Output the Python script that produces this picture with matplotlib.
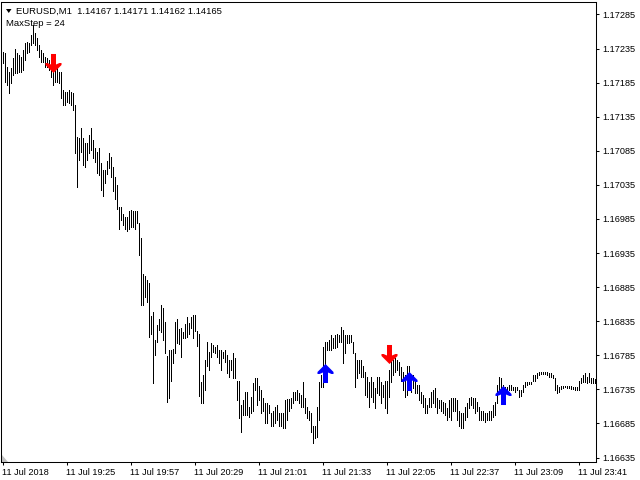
import matplotlib
matplotlib.use("Agg")
import matplotlib.pyplot as plt
from matplotlib.path import Path
from matplotlib.patches import Polygon
import numpy as np

plt.rcParams['font.family'] = ['Liberation Sans', 'DejaVu Sans']

# ---------------- data ----------------
symbol_text = "EURUSD,M1  1.14167 1.14171 1.14162 1.14165"
indicator_text = "MaxStep = 24"

highs = [
    1.17230, 1.17228, 1.17208, 1.17200, 1.17206, 1.17221, 1.17234, 1.17228, 1.17225, 1.17222,
    1.17233, 1.17243, 1.17245, 1.17243, 1.17255, 1.17270, 1.17258, 1.17251, 1.17240, 1.17233,
    1.17228, 1.17222, 1.17221, 1.17218, 1.17222, 1.17203, 1.17203, 1.17206, 1.17200, 1.17200,
    1.17174, 1.17171, 1.17171, 1.17174, 1.17171, 1.17170, 1.17152, 1.17105, 1.17104, 1.17118,
    1.17104, 1.17096, 1.17096, 1.17108, 1.17118, 1.17101, 1.17089, 1.17083, 1.17089, 1.17067,
    1.17057, 1.17057, 1.17070, 1.17082, 1.17076, 1.17061, 1.17046, 1.17035, 1.17002, 1.17002,
    1.16992, 1.16988, 1.16988, 1.16996, 1.16998, 1.16996, 1.16996, 1.16996, 1.16979, 1.16957,
    1.16904, 1.16901, 1.16895, 1.16891, 1.16842, 1.16848, 1.16807, 1.16829, 1.16839, 1.16859,
    1.16854, 1.16834, 1.16784, 1.16793, 1.16793, 1.16794, 1.16834, 1.16839, 1.16823, 1.16825,
    1.16819, 1.16831, 1.16841, 1.16832, 1.16841, 1.16844, 1.16844, 1.16820, 1.16817, 1.16746,
    1.16756, 1.16778, 1.16804, 1.16790, 1.16803, 1.16800, 1.16797, 1.16800, 1.16793, 1.16793,
    1.16790, 1.16793, 1.16785, 1.16778, 1.16778, 1.16788, 1.16781, 1.16748, 1.16748, 1.16712,
    1.16719, 1.16731, 1.16731, 1.16709, 1.16724, 1.16744, 1.16751, 1.16751, 1.16740, 1.16734,
    1.16722, 1.16715, 1.16715, 1.16712, 1.16701, 1.16704, 1.16709, 1.16712, 1.16701, 1.16701,
    1.16701, 1.16719, 1.16721, 1.16721, 1.16722, 1.16731, 1.16731, 1.16734, 1.16729, 1.16727,
    1.16746, 1.16722, 1.16709, 1.16704, 1.16700, 1.16682, 1.16682, 1.16709, 1.16746, 1.16756,
    1.16797, 1.16804, 1.16804, 1.16807, 1.16815, 1.16810, 1.16815, 1.16817, 1.16815, 1.16826,
    1.16822, 1.16815, 1.16815, 1.16815, 1.16815, 1.16804, 1.16788, 1.16778, 1.16778, 1.16778,
    1.16770, 1.16760, 1.16753, 1.16746, 1.16753, 1.16746, 1.16737, 1.16753, 1.16753, 1.16746,
    1.16741, 1.16748, 1.16748, 1.16763, 1.16778, 1.16778, 1.16781, 1.16778, 1.16775, 1.16768,
    1.16760, 1.16756, 1.16770, 1.16770, 1.16756, 1.16756, 1.16748, 1.16741, 1.16741, 1.16731,
    1.16727, 1.16722, 1.16712, 1.16722, 1.16731, 1.16734, 1.16737, 1.16722, 1.16719, 1.16719,
    1.16716, 1.16715, 1.16707, 1.16719, 1.16722, 1.16722, 1.16722, 1.16719, 1.16704, 1.16700,
    1.16701, 1.16709, 1.16715, 1.16722, 1.16724, 1.16722, 1.16722, 1.16716, 1.16709, 1.16704,
    1.16704, 1.16701, 1.16701, 1.16704, 1.16704, 1.16712, 1.16716, 1.16741, 1.16753, 1.16751,
    1.16741, 1.16738, 1.16738, 1.16741, 1.16741, 1.16738, 1.16738, 1.16738, 1.16734, 1.16734,
    1.16741, 1.16746, 1.16746, 1.16746, 1.16746, 1.16756, 1.16756, 1.16759, 1.16760, 1.16760,
    1.16760, 1.16760, 1.16760, 1.16759, 1.16759, 1.16756, 1.16751, 1.16741, 1.16738, 1.16740,
    1.16740, 1.16740, 1.16740, 1.16740, 1.16740, 1.16738, 1.16738, 1.16738, 1.16748, 1.16751,
    1.16756, 1.16759, 1.16753, 1.16759, 1.16751, 1.16751, 1.16750,
]

lows = [
    1.17214, 1.17186, 1.17181, 1.17170, 1.17184, 1.17196, 1.17199, 1.17199, 1.17200, 1.17200,
    1.17203, 1.17218, 1.17228, 1.17230, 1.17240, 1.17243, 1.17240, 1.17233, 1.17222, 1.17215,
    1.17215, 1.17208, 1.17208, 1.17203, 1.17193, 1.17181, 1.17186, 1.17186, 1.17184, 1.17162,
    1.17152, 1.17152, 1.17156, 1.17155, 1.17152, 1.17145, 1.17082, 1.17032, 1.17071, 1.17083,
    1.17064, 1.17061, 1.17071, 1.17082, 1.17086, 1.17074, 1.17068, 1.17052, 1.17049, 1.17027,
    1.17019, 1.17038, 1.17051, 1.17060, 1.17046, 1.17026, 1.17014, 1.16999, 1.16971, 1.16983,
    1.16976, 1.16971, 1.16967, 1.16971, 1.16973, 1.16973, 1.16971, 1.16979, 1.16932, 1.16859,
    1.16859, 1.16870, 1.16863, 1.16812, 1.16817, 1.16744, 1.16785, 1.16804, 1.16822, 1.16819,
    1.16807, 1.16788, 1.16716, 1.16722, 1.16748, 1.16773, 1.16788, 1.16803, 1.16801, 1.16782,
    1.16810, 1.16810, 1.16812, 1.16817, 1.16825, 1.16810, 1.16820, 1.16798, 1.16725, 1.16715,
    1.16715, 1.16734, 1.16770, 1.16763, 1.16782, 1.16790, 1.16788, 1.16782, 1.16773, 1.16763,
    1.16781, 1.16775, 1.16759, 1.16753, 1.16763, 1.16751, 1.16751, 1.16719, 1.16693, 1.16672,
    1.16697, 1.16697, 1.16697, 1.16694, 1.16700, 1.16704, 1.16734, 1.16712, 1.16719, 1.16700,
    1.16704, 1.16685, 1.16685, 1.16700, 1.16682, 1.16682, 1.16685, 1.16690, 1.16681, 1.16681,
    1.16679, 1.16679, 1.16690, 1.16704, 1.16707, 1.16715, 1.16719, 1.16719, 1.16715, 1.16709,
    1.16709, 1.16700, 1.16693, 1.16690, 1.16672, 1.16657, 1.16664, 1.16665, 1.16690, 1.16738,
    1.16738, 1.16753, 1.16793, 1.16793, 1.16793, 1.16796, 1.16796, 1.16797, 1.16804, 1.16804,
    1.16773, 1.16788, 1.16803, 1.16803, 1.16804, 1.16788, 1.16738, 1.16751, 1.16759, 1.16753,
    1.16753, 1.16727, 1.16724, 1.16709, 1.16724, 1.16716, 1.16707, 1.16729, 1.16727, 1.16715,
    1.16724, 1.16707, 1.16701, 1.16724, 1.16746, 1.16756, 1.16760, 1.16763, 1.16756, 1.16748,
    1.16734, 1.16724, 1.16727, 1.16748, 1.16731, 1.16737, 1.16729, 1.16729, 1.16719, 1.16715,
    1.16709, 1.16700, 1.16700, 1.16709, 1.16709, 1.16715, 1.16709, 1.16700, 1.16707, 1.16704,
    1.16700, 1.16697, 1.16690, 1.16694, 1.16690, 1.16704, 1.16704, 1.16690, 1.16682, 1.16679,
    1.16678, 1.16690, 1.16694, 1.16707, 1.16712, 1.16707, 1.16701, 1.16704, 1.16690, 1.16690,
    1.16690, 1.16687, 1.16690, 1.16690, 1.16690, 1.16694, 1.16697, 1.16715, 1.16729, 1.16734,
    1.16727, 1.16727, 1.16729, 1.16734, 1.16734, 1.16734, 1.16731, 1.16734, 1.16724, 1.16725,
    1.16731, 1.16738, 1.16741, 1.16743, 1.16743, 1.16748, 1.16748, 1.16751, 1.16756, 1.16757,
    1.16757, 1.16757, 1.16756, 1.16753, 1.16753, 1.16751, 1.16734, 1.16729, 1.16731, 1.16735,
    1.16737, 1.16738, 1.16737, 1.16737, 1.16735, 1.16735, 1.16734, 1.16734, 1.16734, 1.16744,
    1.16746, 1.16746, 1.16744, 1.16746, 1.16744, 1.16744, 1.16744,
]

time_labels = ["11 Jul 2018", "11 Jul 19:25", "11 Jul 19:57", "11 Jul 20:29",
               "11 Jul 21:01", "11 Jul 21:33", "11 Jul 22:05", "11 Jul 22:37",
               "11 Jul 23:09", "11 Jul 23:41"]
label_bars = [0, 32, 64, 96, 128, 160, 192, 224, 256, 288]

price_ticks = [1.16635, 1.16685, 1.16735, 1.16785, 1.16835, 1.16885, 1.16935,
               1.16985, 1.17035, 1.17085, 1.17135, 1.17185, 1.17235, 1.17285]

sell_bars = [25, 193]
sell_prices = [1.17214, 1.16787]
buy_bars = [161, 203, 250]
buy_prices = [1.16759, 1.16747, 1.16727]

# ---------------- figure ----------------
W, H = 640, 480
fig = plt.figure(figsize=(6.4, 4.8), dpi=100)
fig.patch.set_facecolor('white')
ax = fig.add_axes([1 / W, 18 / H, 595 / W, 460 / H])
ax.set_facecolor('white')

x = np.arange(len(highs))
ax.vlines(x, lows, highs, colors='black', linewidth=0.68, antialiased=False)

# arrow markers (MT4 style)
up_verts = [(0, 9.5), (8, 1.5), (8, -0.5), (6.0, -0.5), (2.5, 1.0), (2.5, -9.5),
            (-2.5, -9.5), (-2.5, 1.0), (-6.0, -0.5), (-8, -0.5), (-8, 1.5), (0, 9.5)]
codes = [Path.MOVETO] + [Path.LINETO] * (len(up_verts) - 2) + [Path.CLOSEPOLY]
up_path = Path(up_verts, codes)
down_path = Path([(vx, -vy) for vx, vy in up_verts], codes)

ax.plot(buy_bars, buy_prices, ls='none', marker=up_path, markersize=13.7,
        markerfacecolor='#0000ff', markeredgecolor='none')
ax.plot(sell_bars, sell_prices, ls='none', marker=down_path, markersize=13.7,
        markerfacecolor='#ff0000', markeredgecolor='none')

ax.set_xlim(-0.75, 296.75)
ax.set_ylim(1.166285, 1.173033)

ax.yaxis.tick_right()
ax.set_yticks(price_ticks)
ax.set_yticklabels([f"{p:.5f}" for p in price_ticks])
ax.set_xticks(label_bars)
ax.set_xticklabels(time_labels, ha='left')

ax.tick_params(axis='both', direction='out', length=2.5, width=0.75,
               colors='black', labelsize=6.6)
ax.tick_params(axis='y', pad=2.0)
ax.tick_params(axis='x', pad=1.5)

for s in ax.spines.values():
    s.set_linewidth(0.75)
    s.set_color('black')

# header texts
fig.text(16 / W, 1 - 14.3 / H, symbol_text, fontsize=6.8, ha='left', va='baseline', color='black')
fig.text(5.5 / W, 1 - 26.5 / H, indicator_text, fontsize=6.8, ha='left', va='baseline', color='black')

tri = Polygon([(6 / W, 1 - 9 / H), (11.5 / W, 1 - 9 / H), (8.75 / W, 1 - 13 / H)],
              closed=True, transform=fig.transFigure, facecolor='black', edgecolor='none')
fig.add_artist(tri)

corner = Polygon([(2 / W, 1 - 455 / H), (2 / W, 1 - 462 / H), (8 / W, 1 - 462 / H)],
                 closed=True, transform=fig.transFigure, facecolor='#c0c0c0', edgecolor='none')
fig.add_artist(corner)

fig.savefig('out.png', dpi=100)
